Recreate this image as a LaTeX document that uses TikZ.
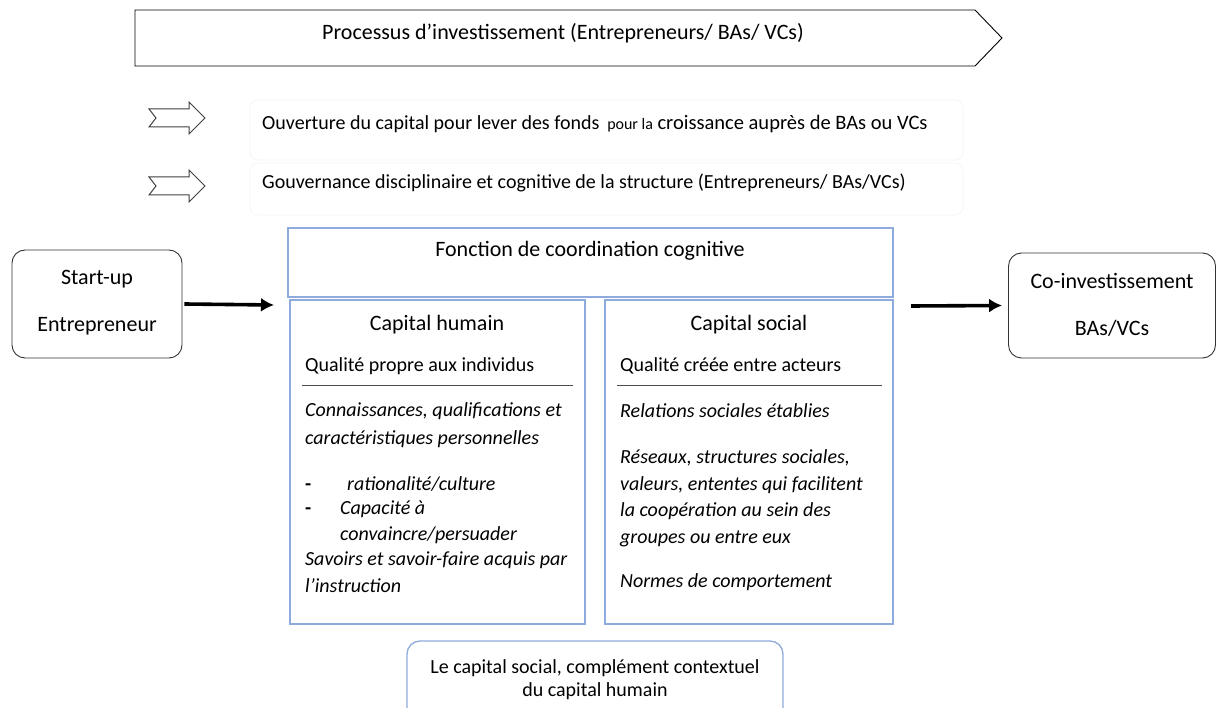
\documentclass[tikz,border=0pt]{standalone}
\usepackage{fontspec}
\setmainfont{Carlito}
\usetikzlibrary{arrows.meta}
\definecolor{bbox}{HTML}{8FAADC}
\definecolor{faint}{HTML}{F5F5F5}
\begin{document}
\begin{tikzpicture}[x=1pt,y=-1pt,
  txt/.style={inner sep=0pt,font=\fontsize{20}{28}\selectfont},
  big/.style={inner sep=0pt,font=\fontsize{22}{28}\selectfont},
  itx/.style={inner sep=0pt,anchor=mid west,font=\fontsize{20}{28}\selectfont\itshape},
  rbox/.style={draw=black!80,line width=0.9pt,rounded corners=13pt},
  bluebox/.style={draw=bbox,line width=1.3pt},
  flow/.style={-{Latex[length=13pt,width=14pt]},line width=3.6pt},
  blockarrow/.style={draw=black!75,line width=1pt,fill=white}
]
\useasboundingbox (0,0) rectangle (1216,708);
% top process arrow
\draw[line width=0.9pt] (135,10) -- (975,10) -- (1002,38) -- (975,66) -- (135,66) -- cycle;
\node[big] (proc) at (563,33) {Processus d’investissement (Entrepreneurs/ BAs/ VCs)};
% faint boxes
\draw[faint,line width=0.8pt,rounded corners=8pt] (250,100) rectangle (963,160);
\draw[faint,line width=0.8pt,rounded corners=8pt] (250,163) rectangle (963,215);
% block arrows
\draw[blockarrow] (149,109) -- (156,118) -- (149,127) -- (189,127) -- (189,134) -- (205,118) -- (189,102) -- (189,109) -- cycle;
\draw[blockarrow] (149,177) -- (156,186) -- (149,195) -- (189,195) -- (189,202) -- (205,186) -- (189,170) -- (189,177) -- cycle;
\node[txt,anchor=mid west] (ouv) at (262,127) {Ouverture du capital pour lever des fonds \,{\fontsize{16}{20}\selectfont pour la} {\fontsize{20.5}{28}\selectfont croissance auprès de BAs ou VCs}};
\node[txt,anchor=mid west] (gouv) at (262,186) {Gouvernance disciplinaire et cognitive de la structure (Entrepreneurs/ BAs/VCs)};
% side boxes
\node[rbox,minimum width=170pt,minimum height=108pt,inner sep=0pt] (start) at (97,304) {};
\node[big] (s1) at (97,279) {Start-up};
\node[big] (s2) at (97,326) {Entrepreneur};
\node[rbox,minimum width=207pt,minimum height=105pt,inner sep=0pt] (coinv) at (1112,305.5) {};
\node[big] (c1) at (1112,281) {Co-investissement};
\node[big] (c2) at (1112,328) {BAs/VCs};
% central boxes
\node[bluebox,minimum width=605pt,minimum height=69pt,inner sep=0pt] (fonc) at (590.5,262.5) {};
\node[big] (fonct) at (590,251) {Fonction de coordination cognitive};
\node[bluebox,minimum width=295pt,minimum height=324pt,inner sep=0pt] (hum) at (437.5,462) {};
\node[bluebox,minimum width=288pt,minimum height=324pt,inner sep=0pt] (soc) at (749,462) {};
% arrows
\coordinate (a2) at (274,305);
\draw[flow] ([xshift=2pt]start.east) -- (a2);
\coordinate (b1) at (911,306);
\draw[flow] (b1) -- ([xshift=-6pt]coinv.west);
% Capital humain content
\node[big] (humt) at (437,325) {Capital humain};
\node[txt,anchor=mid west] (humq) at (305,369) {Qualité propre aux individus};
\draw[line width=0.8pt,black!70] (302,385) -- (573,385);
\node[itx] (h1) at (305,414) {Connaissances, qualifications et};
\node[itx] (h2) at (305,442) {caractéristiques personnelles};
\node[txt,anchor=mid west,font=\fontsize{20}{28}\selectfont\bfseries] (hd1) at (305,488) {-};
\node[itx] (h3) at (347,488) {rationalité/culture};
\node[txt,anchor=mid west,font=\fontsize{20}{28}\selectfont\bfseries] (hd2) at (305,512) {-};
\node[itx] (h4) at (340,512) {Capacité à};
\node[itx] (h5) at (340,538) {convaincre/persuader};
\node[itx] (h6) at (305,563) {Savoirs et savoir-faire acquis par};
\node[itx] (h7) at (305,590) {l’instruction};
% Capital social content
\node[big] (soct) at (749,325) {Capital social};
\node[txt,anchor=mid west] (socq) at (620,369) {Qualité créée entre acteurs};
\draw[line width=0.8pt,black!70] (617,385) -- (882,385);
\node[itx] (r1) at (620,415) {Relations sociales établies};
\node[itx] (r2) at (620,461) {Réseaux, structures sociales,};
\node[itx] (r3) at (620,488) {valeurs, ententes qui facilitent};
\node[itx] (r4) at (620,514) {la coopération au sein des};
\node[itx] (r5) at (620,541) {groupes ou entre eux};
\node[itx] (r6) at (620,585) {Normes de comportement};
% bottom box
\draw[draw=bbox,line width=1.3pt,rounded corners=13pt] (407,716) -- (407,641) -- (783,641) -- (783,716);
\node[txt] (b1t) at (595,668) {Le capital social, complément contextuel};
\node[txt] (b2t) at (595,691) {du capital humain};
\end{tikzpicture}
\end{document}
